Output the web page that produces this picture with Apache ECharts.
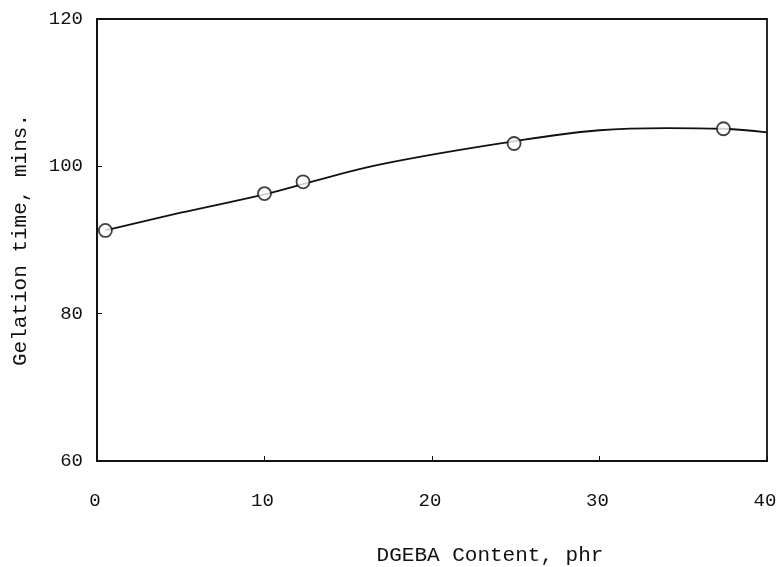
<!DOCTYPE html>
<html>
<head>
<meta charset="utf-8">
<script src="https://cdn.jsdelivr.net/npm/echarts@6/dist/echarts.min.js"></script>
<style>
	html, body { margin: 0; padding: 0; background: #fff; }
	#chart { width: 777px; height: 567px; }
</style>
</head>
<body>
<div id="chart"></div>
<script>
// measured points (DGEBA phr, gelation time mins)
const contentPhr = [ 0.5, 10, 12.3, 24.9, 37.4 ];
const gelTime = [ 91.3, 96.3, 97.9, 103.1, 105.1 ];

// hand-drawn fitted curve
const curveX = [ 0.5, 5, 10, 12.3, 17, 24.9, 30, 34, 37.4, 40 ];
const curveY = [ 91.3, 93.7, 96.2, 97.6, 100.3, 103.4, 104.9, 105.2, 105.1, 104.6 ];

const xTicks = [ 0, 10, 20, 30, 40 ];
const yTicks = [ 60, 80, 100, 120 ];

const font = 'Liberation Mono';
const ink = '#111';

const chart = echarts.init( document.getElementById( 'chart' ) );

chart.setOption( {
	animation: false,
	backgroundColor: '#fff',
	grid: {
		left: 97,
		right: 10,
		top: 19,
		bottom: 106,
		outerBoundsMode: 'none',
		show: true,
		borderColor: ink,
		borderWidth: 1.8,
		backgroundColor: 'transparent'
	},
	xAxis: {
		type: 'value',
		min: xTicks[ 0 ],
		max: xTicks[ xTicks.length - 1 ],
		interval: 10,
		name: 'DGEBA Content, phr',
		nameLocation: 'middle',
		nameGap: 84,
		// the title sits right of the plot centre in the original
		nameTextStyle: { fontFamily: font, fontSize: 21, color: ink, padding: [ 0, 0, 0, 116 ] },
		axisLine: { show: true, lineStyle: { color: ink, width: 1.8 } },
		axisTick: { show: true, inside: true, length: 5, lineStyle: { color: ink } },
		splitLine: { show: false },
		axisLabel: {
			fontFamily: font, fontSize: 19, color: ink, margin: 30,
			padding: [ 0, 4, 0, 0 ],
			formatter: ( v ) => xTicks.includes( v ) ? String( v ) : ''
		}
	},
	yAxis: {
		type: 'value',
		min: yTicks[ 0 ],
		max: yTicks[ yTicks.length - 1 ],
		interval: 20,
		name: 'Gelation time, mins.',
		nameLocation: 'middle',
		nameGap: 66,
		nameTextStyle: { fontFamily: font, fontSize: 21, color: ink },
		axisLine: { show: true, lineStyle: { color: ink, width: 1.8 } },
		axisTick: { show: true, inside: true, length: 5, lineStyle: { color: ink } },
		splitLine: { show: false },
		axisLabel: { fontFamily: font, fontSize: 19, color: ink, margin: 14 }
	},
	series: [
		{
			name: 'curve',
			type: 'line',
			smooth: 0.4,
			showSymbol: false,
			lineStyle: { color: ink, width: 1.8 },
			data: curveX.map( ( x, i ) => [ x, curveY[ i ] ] ),
			z: 2
		},
		{
			name: 'measured',
			type: 'scatter',
			symbol: 'circle',
			symbolSize: 13,
			itemStyle: { color: '#fff', borderColor: ink, borderWidth: 1.8 },
			data: contentPhr.map( ( x, i ) => [ x, gelTime[ i ] ] ),
			z: 3
		}
	]
} );
</script>
</body>
</html>
